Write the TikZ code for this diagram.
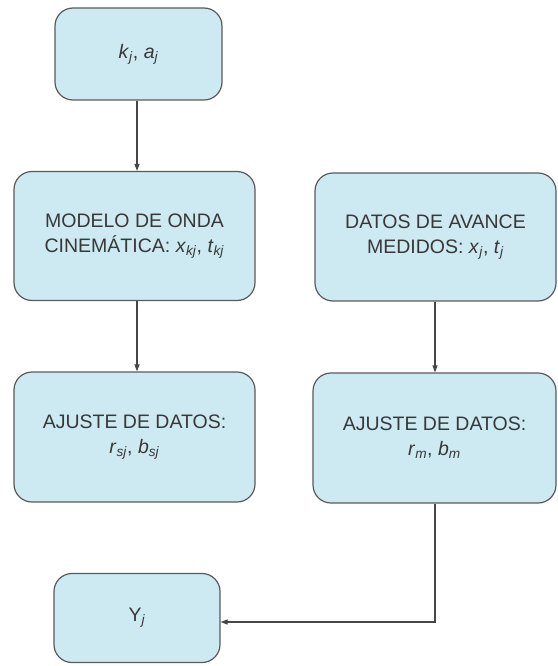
\documentclass[tikz,border=0pt]{standalone}
\usepackage{fontspec}
\setmainfont{Liberation Sans}
\usetikzlibrary{arrows.meta}
\definecolor{boxfill}{RGB}{205,234,242}
\definecolor{boxline}{RGB}{90,90,90}
\definecolor{arrline}{RGB}{70,70,70}
\newcommand\sv[2]{\textit{#1}\textsubscript{\textit{#2}}}
\begin{document}
\begin{tikzpicture}[x=1pt,y=-1pt,
  stepbox/.style={draw=boxline, line width=1.2pt, fill=boxfill, rounded corners=18pt,
    align=center, inner sep=0pt, font=\fontsize{19.5}{25}\selectfont, text=black!78},
  arr/.style={draw=arrline, line width=1.2pt, -{Triangle[length=7pt,width=5pt]}}]
\useasboundingbox[fill=white] (0,0) rectangle (557,666);
\node[stepbox, minimum width=167pt, minimum height=92pt] (b1) at (138.5,54) {\sv{k}{j}, \sv{a}{j}};
\node[stepbox, minimum width=241pt, minimum height=129pt] (b2) at (134.5,236) {MODELO DE ONDA\\CINEMÁTICA: \sv{x}{kj}, \sv{t}{kj}};
\node[stepbox, minimum width=241pt, minimum height=128pt] (b3) at (435.5,237) {DATOS DE AVANCE\\MEDIDOS: \sv{x}{j}, \sv{t}{j}};
\node[stepbox, minimum width=241pt, minimum height=130pt] (b4) at (134.5,437) {AJUSTE DE DATOS:\\\sv{r}{sj}, \sv{b}{sj}};
\node[stepbox, minimum width=243pt, minimum height=130pt] (b5) at (434.5,438) {AJUSTE DE DATOS:\\\sv{r}{m}, \sv{b}{m}};
\node[stepbox, minimum width=166pt, minimum height=89pt] (by) at (137,618) {Y\textsubscript{\textit{j}}};
\draw[arr] ([xshift=-1.5pt]b1.south) -- ([xshift=-1.5pt]b1.south |- b2.north);
\draw[arr] ([xshift=2.5pt]b2.south) -- ([xshift=2.5pt]b2.south |- b4.north);
\draw[arr] ([xshift=-0.5pt]b3.south) -- ([xshift=-0.5pt]b3.south |- b5.north);
\draw[arr] ([xshift=0.5pt]b5.south) |- ([yshift=-4pt]by.east);
\end{tikzpicture}
\end{document}
